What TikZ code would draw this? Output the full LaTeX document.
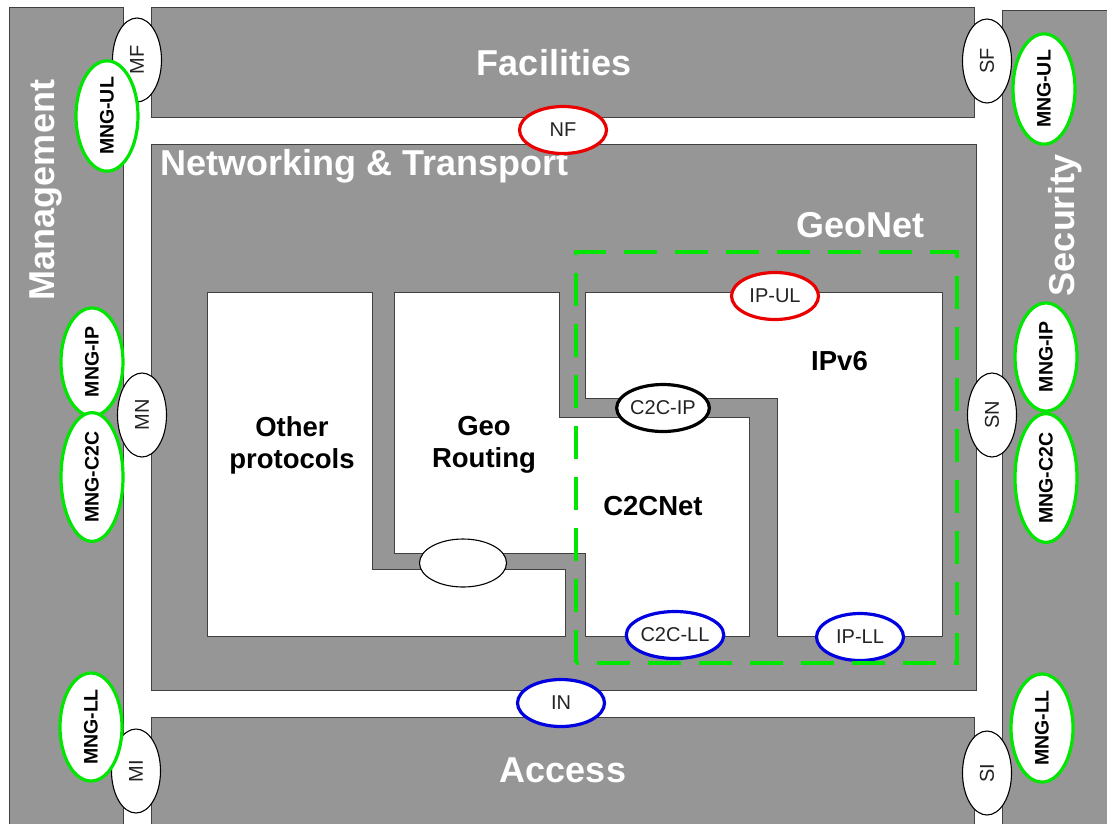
\documentclass[tikz,border=0pt]{standalone}
\usepackage{fontspec}
\setmainfont{Liberation Sans}
\usetikzlibrary{shapes.geometric}

\definecolor{blockgray}{RGB}{150,150,150}
\definecolor{edgegray}{RGB}{64,64,64}
\definecolor{sapgreen}{RGB}{0,230,0}
\definecolor{sapred}{RGB}{235,0,0}
\definecolor{sapblue}{RGB}{0,0,225}
\definecolor{labelink}{RGB}{35,35,35}

\tikzset{
  layer/.style={fill=blockgray, draw=edgegray, line width=1pt},
  proto/.style={fill=white, draw=edgegray, line width=1pt},
  bigtitle/.style={text=white, font=\fontsize{36}{42}\selectfont\bfseries, inner sep=0pt, anchor=base},
  blocktitle/.style={text=black, font=\fontsize{27.5}{32}\selectfont\bfseries, inner sep=0pt, align=center},
  sap/.style={ellipse, fill=white, draw=black, line width=1.1pt, inner sep=0pt,
    text=labelink, font=\fontsize{20}{24}\selectfont},
  sapside/.style={sap, rotate=90, minimum width=84pt, minimum height=49pt},
  sapflat/.style={sap, line width=3.2pt, minimum width=87pt, minimum height=47pt},
  mngsap/.style={sap, draw=sapgreen, line width=3.2pt, rotate=90, minimum width=108pt,
    minimum height=62pt, text=black, font=\fontsize{19.5}{23}\selectfont\bfseries},
  geoframe/.style={draw=sapgreen, line width=3.2pt, dash pattern=on 33pt off 18pt},
}

\begin{document}
\begin{tikzpicture}[x=1pt,y=-1pt]
  % page area
  \clip (0,0) rectangle (1107,823);
  \fill[white] (0,0) rectangle (1107,823);

  % outer layers
  \draw[layer] (9,7) rectangle (123,840);
  \draw[layer] (151,7) rectangle (974,117);
  \draw[layer] (1002,10) rectangle (1120,840);
  \draw[layer] (151,144) rectangle (976,690);
  \draw[layer] (151,717) rectangle (974,840);

  % protocol blocks inside networking & transport
  \draw[proto] (207,292) -- (372,292) -- (372,569) -- (565,569) -- (565,636) -- (207,636) -- cycle;
  \draw[proto] (394,292) -- (559,292) -- (559,417) -- (749,417) -- (749,636)
               -- (585,636) -- (585,553) -- (394,553) -- cycle;
  \draw[proto] (585,292) -- (942,292) -- (942,636) -- (777,636) -- (777,398)
               -- (585,398) -- cycle;

  % layer titles
  \node[bigtitle] (facT) at (554,75) {Facilities};
  \node[bigtitle, anchor=base west] (ntT) at (160,175) {Networking \& Transport};
  \node[bigtitle] (geoT) at (860,237) {GeoNet};
  \node[bigtitle] (accT) at (563,782) {Access};
  \node[bigtitle, rotate=90] (mgmtT) at (54,190) {Management};
  \node[bigtitle, rotate=90] (secT) at (1074,225) {Security};

  % block titles
  \node[blocktitle] (otherT) at (292,445) {Other\\protocols};
  \node[blocktitle] (geoR) at (484,445) {Geo\\Routing};
  \node[blocktitle] (c2cT) at (653,506) {C2CNet};
  \node[blocktitle, anchor=base] (ipT) at (839.5,370) {IPv6};

  % service access points
  \node[sapside] (mf) at (137,60) {MF};
  \node[sapside] (sf) at (987,61) {SF};
  \node[sapside] (mn) at (142,415) {MN};
  \node[sapside] (sn) at (992,415) {SN};
  \node[sapside] (mi) at (136,771) {MI};
  \node[sapside] (si) at (987,773) {SI};

  \node[mngsap] (mngulL) at (107,116) {MNG-UL};
  \node[mngsap] (mngulR) at (1044,89) {MNG-UL};
  \node[mngsap] (mngipL) at (92,362) {MNG-IP};
  \node[mngsap] (mngcL) at (92,477) {MNG-C2C};
  \node[mngsap] (mngipR) at (1046,357) {MNG-IP};
  \node[mngsap] (mngcR) at (1046,478) {MNG-C2C};
  \node[mngsap] (mngllL) at (91,727) {MNG-LL};
  \node[mngsap] (mngllR) at (1042,728) {MNG-LL};

  \node[sapflat, draw=sapred] (nf) at (563,130) {NF};
  \node[sapflat, draw=sapblue] (in) at (561,703) {IN};
  \node[sapflat, draw=sapred] (ipul) at (775,296) {IP-UL};
  \node[sapflat, draw=black] (c2cip) at (663,408) {C2C-IP};
  \node[sapflat, draw=sapblue] (c2cll) at (675,635) {C2C-LL};
  \node[sapflat, draw=sapblue] (ipll) at (860,637) {IP-LL};
  \node[sap, minimum width=87pt, minimum height=48pt] (geoother) at (463,563) {};

  % GeoNet boundary
  \draw[geoframe] (576,663) -- (576,252) -- (957,252) -- (957,663) -- cycle;
\end{tikzpicture}
\end{document}
